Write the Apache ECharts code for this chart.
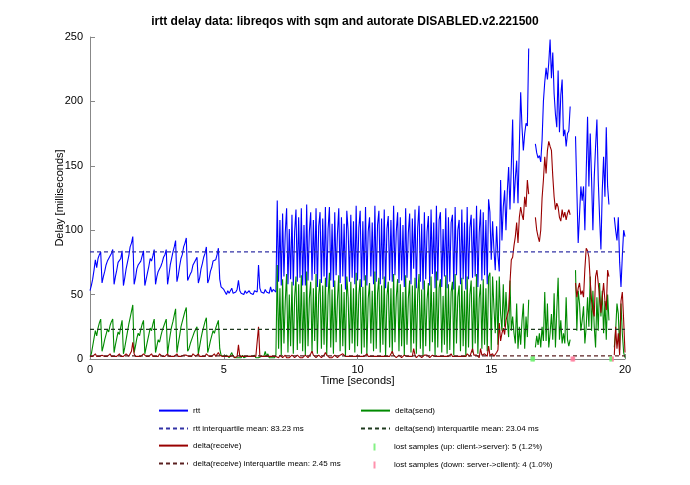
<!DOCTYPE html>
<html>
<head>
<meta charset="utf-8">
<script src="https://cdn.jsdelivr.net/npm/echarts@6/dist/echarts.min.js"></script>
<style>html,body{margin:0;padding:0;background:#fff}#c{width:690px;height:485px}</style>
</head>
<body>
<div id="c"></div>
<script>
// ---- data ----
const titleText = 'irtt delay data: libreqos with sqm and autorate DISABLED.v2.221500';
const sampleInterval = 0.05; // seconds between samples
const xTicks = [0, 5, 10, 15, 20];
const yTicks = [0, 50, 100, 150, 200, 250];

const rtt = [
53,57,62,69,77,71,78,81,83,59,64,68,73,76,75,80,82,85,58,64,
69,75,74,78,84,57,63,70,75,80,87,90,95,58,63,70,73,72,76,80,
84,57,62,67,72,78,76,80,85,58,64,68,67,72,75,79,81,85,58,65,
73,78,83,87,92,60,65,72,78,81,87,90,94,61,61,66,68,73,75,76,
79,59,63,70,74,79,82,87,59,62,68,71,76,75,77,81,86,62,56,55,
54,52,50,53,51,52,55,51,50,52,54,61,53,51,52,50,53,51,52,53,
51,52,50,53,54,52,73,55,52,53,51,54,52,53,51,56,52,54,53,52,
123,60,108,57,113,64,98,117,58,101,62,112,57,99,116,60,110,63,117,57,
104,57,120,61,99,114,61,108,66,117,56,103,114,59,109,64,118,56,101,118,
61,105,56,114,65,97,117,59,110,64,105,54,115,100,60,112,63,107,58,119,
61,102,115,56,107,61,118,57,99,110,64,106,58,119,60,104,115,58,109,62,
116,55,101,111,61,108,60,119,65,99,114,59,110,61,104,56,117,63,98,113,
58,109,70,116,55,102,119,60,105,54,114,62,99,111,57,116,66,106,55,119,
61,108,114,56,101,64,117,55,110,60,106,112,54,118,65,100,108,58,116,62,
106,54,118,62,102,112,63,109,64,119,56,98,116,61,114,65,108,58,124,114,
77,107,85,69,103,80,68,139,92,118,131,100,130,149,116,150,186,121,140,154,
121,165,207,180,162,175,183,181,241,null,null,null,null,167,160,156,158,153,170,200,
215,226,217,230,248,218,238,206,190,180,224,176,205,217,173,178,165,175,177,196,
null,null,null,173,131,90,112,134,123,134,100,145,188,134,175,140,100,141,165,186,
139,110,85,131,157,126,180,134,120,null,null,null,110,100,92,110,75,56,80,100,
95
];

const deltaSend = [
2,4,10,16,22,18,24,28,31,6,10,15,19,23,21,26,29,31,5,11,
16,21,19,25,30,4,9,15,21,27,32,37,42,5,10,16,20,18,23,27,
30,4,9,14,19,24,22,27,31,5,10,15,13,18,22,25,28,31,4,12,
19,25,29,34,39,5,12,18,25,29,33,37,40,6,8,12,15,18,21,23,
25,4,10,16,21,25,29,32,5,9,14,18,22,20,24,27,30,8,3,2,
2,1,3,2,1,2,5,2,1,1,2,1,2,1,3,1,1,2,1,2,
1,2,1,3,1,2,1,1,2,1,2,6,2,4,1,2,1,2,1,3,
73,8,55,3,62,12,45,66,5,50,10,60,4,48,64,7,58,12,65,6,
52,3,68,10,47,60,5,55,14,66,4,50,62,8,57,11,63,3,49,67,
9,54,4,61,13,46,65,6,58,10,52,2,64,48,7,60,12,55,5,67,
10,50,62,4,56,9,65,3,47,59,12,53,6,68,8,51,63,5,57,11,
64,2,49,60,9,55,4,66,13,48,62,6,58,10,52,3,65,11,47,61,
5,57,12,63,4,50,66,8,54,2,61,10,46,59,6,64,13,52,3,68,
9,55,62,5,49,11,65,4,58,7,52,60,3,66,12,48,57,6,63,10,
53,2,64,9,50,61,5,56,12,66,4,47,58,8,62,11,55,6,64,67,
7,64,40,20,61,11,64,35,22,58,25,52,30,17,61,22,33,20,12,43,
8,25,11,30,43,8,33,17,46,null,null,null,null,9,18,11,20,9,25,14,
52,14,43,9,20,35,15,51,9,38,63,15,30,12,20,12,48,15,10,15,
null,null,null,69,22,53,43,22,30,41,12,25,48,25,64,22,53,25,9,48,
22,59,33,53,20,45,15,50,30,null,null,null,9,22,43,35,7,43,20,5,
1
];

const deltaReceive = [
2,3,2,3,4,2,3,2,1,3,4,2,3,2,3,4,2,3,2,3,
2,3,4,2,3,2,3,4,3,2,4,6,13,4,2,3,2,3,2,3,
4,3,2,3,2,3,4,2,3,2,3,2,4,3,2,3,2,3,4,2,
3,2,3,2,3,4,2,3,2,1,3,2,3,4,2,3,2,4,3,2,
3,4,2,3,2,3,2,4,3,2,3,2,3,4,2,3,5,3,2,2,
1,2,1,2,1,2,1,3,1,2,2,11,2,1,2,1,2,1,2,1,
2,1,2,1,2,1,25,2,1,2,1,2,1,2,1,2,1,2,1,2,
2,1,3,2,1,2,3,1,2,1,2,3,2,1,2,3,2,1,2,1,
2,3,2,1,2,4,6,3,2,1,2,3,2,1,2,3,5,3,2,1,
2,1,2,3,2,1,2,3,2,4,3,2,1,2,3,2,1,2,3,2,
1,2,3,2,1,2,3,4,2,1,2,3,2,1,2,3,2,3,2,1,
2,3,2,1,2,3,6,3,2,1,2,3,2,1,2,3,2,2,1,2,
3,2,8,3,1,2,3,2,1,2,3,2,3,2,1,2,3,4,2,1,
2,3,2,1,2,3,2,1,2,3,4,2,1,2,3,2,1,2,3,2,
3,2,4,3,2,1,8,3,2,3,2,1,8,3,2,4,3,2,10,3,
3,4,2,3,5,7,28,14,20,24,19,30,34,38,59,77,79,88,95,106,
90,110,118,112,108,126,118,139,128,null,null,null,null,110,100,95,91,100,125,139,
157,144,162,169,165,162,142,126,116,121,118,110,107,116,110,114,108,113,116,112,
null,null,null,59,48,55,59,50,53,48,70,86,84,79,61,45,38,33,64,69,
59,48,36,48,59,45,38,69,64,null,null,null,3,25,8,20,3,45,52,30,
5
];

const rttIqm = 83.23;
const sendIqm = 23.04;
const receiveIqm = 2.45;
const lostUpTimes = [16.5, 16.55, 16.6, 19.45, 19.5];
const lostDownTimes = [18.0, 18.05, 18.1, 19.55];

const names = {
  rtt: 'rtt',
  rttIqm: 'rtt interquartile mean: 83.23 ms',
  recv: 'delta(receive)',
  recvIqm: 'delta(receive) interquartile mean: 2.45 ms',
  send: 'delta(send)',
  sendIqm: 'delta(send) interquartile mean: 23.04 ms',
  lostUp: 'lost samples (up: client->server): 5 (1.2%)',
  lostDown: 'lost samples (down: server->client): 4 (1.0%)'
};

// ---- build ----
const toPairs = arr => arr.map((v, i) => [+(i * sampleInterval).toFixed(2), v]);
const xMax = xTicks[xTicks.length - 1];
const hline = v => [[xTicks[0], v], [xMax, v]];
const FONT = 'Liberation Sans, Arial, sans-serif';
const tickIcon = 'path://M0,0M29,14M13.5,3.5h2v7h-2z';

const rowTops = [405, 423, 440, 458];
const legendRow = (name, left, top, isLine) => ({
  orient: 'horizontal', left, top, padding: 0,
  itemWidth: 29, itemHeight: 14, itemGap: 0, selectedMode: false,
  textStyle: {fontFamily: FONT, fontSize: 8, color: '#000'},
  itemStyle: isLine ? {opacity: 0, color: 'transparent', borderColor: 'transparent', borderWidth: 0} : {},
  data: [isLine ? name : {name, icon: tickIcon}]
});

const chart = echarts.init(document.getElementById('c'), null, {renderer: 'canvas'});
const lineS = (name, data, color, width, type, z) => ({
  name, type: 'line', data, symbol: 'none', showSymbol: false, connectNulls: false,
  lineStyle: {color, width, type}, itemStyle: {color}, z, animation: false
});

chart.setOption({
  animation: false,
  backgroundColor: '#ffffff',
  title: {
    text: titleText, left: 'center', top: 11,
    textStyle: {fontFamily: FONT, fontSize: 12, fontWeight: 'bold', color: '#000'}
  },
  grid: {left: 90, right: 65, top: 37, bottom: 126, containLabel: false},
  xAxis: {
    type: 'value', min: xTicks[0], max: xMax, interval: 5,
    name: 'Time [seconds]', nameLocation: 'middle', nameGap: 16, nameMoveOverlap: false,
    nameTextStyle: {fontFamily: FONT, fontSize: 11, color: '#000'},
    axisLine: {show: true, lineStyle: {color: '#888', width: 1}},
    axisTick: {show: true, inside: true, length: 5, lineStyle: {color: '#888'}},
    axisLabel: {fontFamily: FONT, fontSize: 11, color: '#000', margin: 5},
    splitLine: {show: false}
  },
  yAxis: {
    type: 'value', min: yTicks[0], max: yTicks[yTicks.length - 1], interval: 50,
    name: 'Delay [milliseconds]', nameLocation: 'middle', nameGap: 25, nameMoveOverlap: false,
    nameTextStyle: {fontFamily: FONT, fontSize: 11, color: '#000'},
    axisLine: {show: true, lineStyle: {color: '#888', width: 1}},
    axisTick: {show: true, inside: true, length: 5, lineStyle: {color: '#888'}},
    axisLabel: {fontFamily: FONT, fontSize: 11, color: '#000', margin: 7},
    splitLine: {show: false}
  },
  legend: [
    legendRow(names.rtt, 158, rowTops[0], true),
    legendRow(names.rttIqm, 158, rowTops[1], true),
    legendRow(names.recv, 158, rowTops[2], true),
    legendRow(names.recvIqm, 158, rowTops[3], true),
    legendRow(names.send, 360, rowTops[0], true),
    legendRow(names.sendIqm, 360, rowTops[1], true),
    legendRow(names.lostUp, 360, rowTops[2], false),
    legendRow(names.lostDown, 360, rowTops[3], false)
  ],
  series: [
    lineS(names.rtt, toPairs(rtt), '#0000ff', 1.1, 'solid', 2),
    lineS(names.rttIqm, hline(rttIqm), '#3333a6', 1.3, [4, 3], 6),
    lineS(names.send, toPairs(deltaSend), '#008a00', 1.1, 'solid', 3),
    lineS(names.sendIqm, hline(sendIqm), '#1f3a1f', 1.2, [4, 3], 6),
    lineS(names.recv, toPairs(deltaReceive), '#990000', 1.1, 'solid', 4),
    lineS(names.recvIqm, hline(receiveIqm), '#5a2020', 1.2, [4, 3], 6),
    {
      name: names.lostUp, type: 'scatter', data: lostUpTimes.map(t => [t, 0]),
      symbol: 'rect', symbolSize: [2, 5], itemStyle: {color: '#66ee66'}, z: 7, clip: false
    },
    {
      name: names.lostDown, type: 'scatter', data: lostDownTimes.map(t => [t, 0]),
      symbol: 'rect', symbolSize: [2, 5], itemStyle: {color: '#ff7799'}, z: 7, clip: false
    }
  ]
});
</script>
</body>
</html>
